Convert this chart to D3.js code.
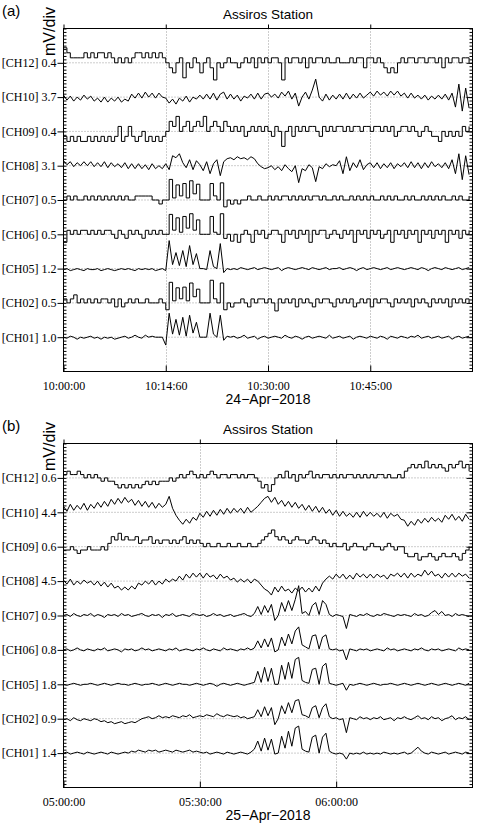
<!DOCTYPE html>
<html>
<head>
<meta charset="utf-8">
<script src="https://cdn.jsdelivr.net/npm/d3@7"></script>
<style>
  body { margin: 0; background: #fff; }
</style>
</head>
<body>
<div id="chart"></div>
<script>
// channel names, top to bottom
const channels = ["CH12", "CH10", "CH09", "CH08", "CH07", "CH06", "CH05", "CH02", "CH01"];

// sensitivity of each trace, mV per division
const mvDivA = [0.4, 3.7, 0.4, 3.1, 0.5, 0.5, 1.2, 0.5, 1.0];
const mvDivB = [0.6, 4.4, 0.6, 4.5, 0.9, 0.8, 1.8, 0.9, 1.4];

// time axis
const startA = new Date(2018, 3, 24, 10, 0, 0), endA = new Date(2018, 3, 24, 11, 0, 0);
const startB = new Date(2018, 3, 25, 5, 0, 0), endB = new Date(2018, 3, 25, 6, 30, 0);
const sampleSecA = 30, sampleSecB = 45;
const tickTimesA = [new Date(2018, 3, 24, 10, 0), new Date(2018, 3, 24, 10, 15), new Date(2018, 3, 24, 10, 30), new Date(2018, 3, 24, 10, 45)];
const tickLabelsA = ["10:00:00", "10:14:60", "10:30:00", "10:45:00"];
const tickTimesB = [new Date(2018, 3, 25, 5, 0), new Date(2018, 3, 25, 5, 30), new Date(2018, 3, 25, 6, 0)];
const tickLabelsB = ["05:00:00", "05:30:00", "06:00:00"];

// signal samples, microvolts relative to each channel's mean level
const a_ch12 = [175,117,58,58,58,58,117,58,117,58, 117,117,58,117,58,0,58,0,58,0, 58,117,117,58,117,58,117,58,117,58,
  0,-58,-117,0,58,-175,0,-58,58,0, -117,0,58,-58,-200,0,-58,0,58,0, 0,-58,0,58,0,58,-58,58,0,58,
  0,58,58,0,-200,58,0,58,58,0, 58,-58,58,0,58,58,0,58,0,0, 58,0,0,0,58,0,58,58,-58,58,
  58,0,58,0,-58,-117,-58,-117,0,58, 0,58,58,0,58,58,0,58,58,0, 58,-58,58,0,58,58,0,58,58,0];
const a_ch10 = [216,-324,108,-432,0,-324,216,-216,108,-432, -108,-540,0,-540,-108,-432,0,-540,-216,-432,
  324,-108,432,-108,540,0,432,-108,432,0, -108,-648,-216,-756,-108,-432,108,-540,0,-216,
  216,-216,324,-216,432,-324,324,540,-216,324, -216,216,-432,108,-108,324,-216,432,-216,324,
  432,0,324,-108,540,108,648,-216,432,-970, 0,540,-216,756,1940,0,-432,324,-324,216,
  -216,324,-216,432,-216,324,-108,432,-108,216, 540,108,648,216,540,108,648,216,648,108,
  432,-108,432,-108,216,-216,216,-324,108,-216, 216,-216,324,-324,432,-1079,1403,-1511,971,-1187];
const a_ch09 = [-58,-117,-58,-117,-58,-117,-117,-58,-117,-58, -117,-58,-117,-58,-117,-58,58,-117,-58,58,
  -58,-117,-58,0,-117,-58,-117,-58,-117,-58, 0,117,58,175,0,58,117,0,58,117,
  58,175,0,58,117,58,0,117,58,0, 58,0,58,-58,0,58,0,58,0,58,
  0,-58,58,0,-175,0,58,-58,58,0, 58,0,58,58,0,-58,58,0,58,0,
  58,58,0,58,0,58,58,0,58,58, 0,58,58,0,58,0,58,-58,0,58,
  58,0,58,0,-58,0,58,0,-58,-58, -117,0,-58,0,-58,0,-58,58,0,58];
const a_ch08 = [450,90,360,-90,270,0,360,0,360,-90, 270,-90,360,-180,270,-90,180,-180,270,-270,
  180,-270,180,-270,90,-360,180,-270,0,-270, 180,-360,900,720,1080,270,-180,540,-360,450,
  90,-450,360,-720,180,540,-900,360,630,720, 540,810,630,720,540,810,630,180,-90,-270,
  -180,0,-360,-90,-450,90,-270,-540,0,-1530, -270,-450,90,-180,-1440,-90,-270,180,-90,90,
  0,450,-720,810,-450,270,-180,540,-360,90, 270,-180,270,-270,180,-180,270,-270,180,-90,
  270,-180,360,-180,270,-270,270,-180,360,-90, 180,-180,270,-270,540,-720,1080,-1260,900,-810];
const a_ch07 = [0,58,0,58,0,0,58,0,58,0, 58,0,58,0,58,0,58,0,58,0, 0,58,58,58,58,58,0,0,-58,0,
  0,300,30,220,60,240,30,280,90,230, 0,0,0,240,60,0,250,-100,0,-60, 0,-58,0,0,58,0,0,58,0,0,
  58,0,58,0,58,58,0,58,0,58, 0,58,0,58,58,0,58,0,0,58, 0,58,0,0,58,0,58,0,58,0,
  58,0,0,58,0,58,0,58,0,0, 58,0,58,0,0,58,0,58,0,58, 0,58,0,0,58,0,58,0,0,58];
const a_ch06 = [-117,58,0,58,0,58,58,0,58,0, 58,0,58,58,0,-58,58,0,-58,58, 0,58,0,-58,58,0,58,0,58,0,
  0,290,60,240,30,260,90,300,60,210, 0,0,0,260,30,0,300,-60,0,-100, 0,-117,0,58,0,-117,58,0,58,-58,
  0,58,58,0,-117,58,0,58,-58,58, 0,58,-117,58,0,58,58,-58,0,58, 0,-58,58,0,58,-117,58,0,58,-58,
  58,0,58,-58,0,58,-117,58,0,58, -58,58,0,58,-117,58,0,58,-58,58, 0,58,-117,58,0,58,-58,58,0,58];
const a_ch05 = [-35,0,-70,-35,0,-35,-70,0,-35,-35, 0,-70,-35,0,-35,-70,-35,0,-35,0, -35,-70,0,-35,0,-35,0,-70,-35,0,
  -70,980,140,560,105,630,70,805,140,525, 0,0,-35,630,70,0,875,-140,0,-35, 0,-35,35,0,-35,0,35,-35,0,35,
  0,-35,0,35,-70,0,35,0,-35,0, 35,0,-35,35,0,-35,0,35,-35,0, 0,35,-35,0,35,0,-70,0,35,-35,
  0,35,0,-35,0,35,-35,0,35,0, -35,0,35,0,-35,35,0,-70,0,35, 0,-35,35,0,-35,0,35,-35,0,35];
const a_ch02 = [58,0,58,117,0,58,0,58,0,58, 0,58,58,0,58,-58,58,-58,0,58, 0,58,0,0,58,0,0,0,58,0,
  -100,300,30,220,60,230,30,290,90,200, 0,0,0,330,60,0,290,-100,0,-60, 0,0,58,0,-58,58,0,58,58,0,
  58,0,-117,58,0,58,0,58,-58,58, 0,58,0,-58,58,0,58,58,0,-58, 58,0,58,0,58,-58,0,58,0,58,
  -58,58,0,58,58,0,-58,58,0,58, 0,58,-58,58,0,58,0,-58,58,0, 58,0,58,-58,58,0,58,0,58,0];
const a_ch01 = [0,-29,29,0,-58,0,-29,0,29,-29, 0,-58,0,-29,0,-58,-29,0,29,-29, 0,58,0,-29,58,0,29,0,0,0,
  -230,700,90,520,60,580,30,640,120,435, 0,0,0,700,90,0,640,-90,29,0, 29,-29,0,58,-29,0,29,-58,0,29,
  -29,0,29,0,-29,58,0,-29,29,0, -58,0,29,-29,0,29,0,-29,58,-29, 0,29,-29,0,29,-58,0,29,0,-29,
  29,0,-29,29,0,-58,29,0,-29,29, 0,-29,29,0,58,-29,0,29,-29,0, 29,-29,0,29,-58,0,29,-29,0,29];

const b_ch12 = [58,117,58,58,117,58,0,58,0,58, 0,-58,0,-58,-58,-117,-175,-117,-175,-117,
  -175,-117,-175,-117,-58,-117,-58,-117,-58,-58, -58,0,-58,0,58,0,58,117,58,0,
  58,0,58,117,58,0,58,58,0,58, 58,0,58,0,58,58,0,-58,-175,-117,
  -234,-117,0,58,0,117,0,58,-58,58, 0,58,117,0,58,0,58,58,0,58,
  0,58,0,58,58,0,58,0,58,0, 58,0,58,58,0,58,0,0,58,0,
  117,175,234,175,234,175,292,175,234,175, 234,175,117,234,175,234,292,175,234,117];
const b_ch10 = [765,128,1020,255,890,380,1150,255,1020,510, 1275,640,1400,765,1660,1020,1785,1150,1910,1275,
  1660,890,1530,765,1400,640,1275,510,1150,640, 1020,2040,510,-380,-1020,-1530,-890,-1400,-640,-1020,
  -128,-640,128,-510,255,-380,380,-255,510,-128, 510,0,510,-128,640,0,380,765,1275,1785,
  2040,1275,1910,1020,1530,765,1400,640,1275,510, 1020,255,890,128,765,0,640,-128,380,-380,
  255,-510,128,-510,-128,-640,0,-640,128,-510, 0,-510,-128,-640,0,-765,-128,-510,-255,-890,
  -1020,-1785,-1150,-1660,-890,-1400,-765,-1275,-640,-1150, -765,-1275,-380,-890,-255,-1020,-510,-1150,-255,-890];
const b_ch09 = [-58,-58,0,-58,-117,-58,-58,0,-58,-58, -58,0,-58,58,175,117,234,117,175,117,
  117,175,58,117,117,175,58,117,58,117, 117,58,117,58,117,175,58,117,58,117,
  58,0,58,0,0,58,0,0,58,0, 0,58,0,0,58,0,0,58,117,175,
  234,292,175,117,175,117,58,117,175,117, 117,58,117,175,117,58,117,58,0,58,
  0,0,58,-58,0,58,0,0,-58,0, 58,0,0,-58,0,58,0,-58,0,0,
  -117,-175,-175,-117,-234,-175,-175,-117,-175,-234, -175,-117,-175,-175,-117,-175,-234,-117,-58,0];
const b_ch08 = [130,-391,261,-522,0,-391,130,-261,0,-522, 0,-652,-130,-782,-261,-913,-652,-1174,-782,-1174,
  -652,-1043,-261,-522,0,-391,130,-522,0,-391, 261,-130,261,0,652,130,913,391,1043,522,
  1043,391,1043,522,782,261,913,391,652,130, 391,-130,261,-130,261,-261,261,0,-522,-1043,
  -1304,-1826,-782,-1434,-652,-1304,-1043,-1565,-913,-1304, -782,-1434,-913,-1434,-652,-1304,-261,261,652,261,
  913,391,913,261,782,261,1043,522,913,391, 913,391,913,522,782,261,913,652,1043,522,
  1043,391,1043,522,913,652,1434,782,1304,652, 913,391,1043,522,1043,522,1043,652,913,391];
const b_ch07 = [0,26,-26,52,0,-26,26,0,52,-26, 26,0,-52,26,0,26,-26,52,0,26, -26,0,26,52,0,-26,26,0,26,-52,
  26,0,52,-26,0,26,0,-26,52,26, 0,26,-26,0,52,0,26,-26,0,26, -26,0,26,52,0,-26,52,235,26,260,
  78,290,-130,0,340,104,390,130,420,780, 52,104,0,260,340,26,390,290,26,-26, 26,0,-26,-340,26,0,-26,26,0,52,
  0,-26,26,0,52,26,0,-26,26,0, 26,0,-26,52,0,26,-26,0,78,130, 26,104,0,26,-26,52,0,26,0,-26];
const b_ch06 = [0,23,-23,0,46,0,-23,23,0,-23, 23,0,46,-23,0,23,0,-46,23,0, 23,-23,0,46,0,23,-23,0,23,0,
  -23,23,0,46,-23,0,23,0,-23,23, 0,46,0,-23,23,0,-23,46,0,23, 0,-23,23,0,46,0,46,210,46,255,
  70,278,-46,0,300,93,370,140,440,535, 116,70,23,325,350,23,300,350,23,0, 23,-23,0,-232,23,0,-23,23,0,23,
  -23,0,23,0,-23,46,0,23,-23,0, 23,0,-23,23,0,46,0,-23,23,0, 23,-23,0,23,0,-23,46,0,23,0];
const b_ch05 = [0,-52,0,52,0,-52,0,0,52,0, -52,0,52,0,-52,0,52,0,0,-52, 0,52,0,-52,0,0,52,0,-52,0,
  52,0,-52,0,52,0,0,-52,0,52, 0,-52,0,52,0,-104,0,52,0,-52, 0,52,0,-52,0,52,100,680,100,890,
  150,840,0,0,1000,260,1150,310,1300,1410, 200,100,52,780,840,0,940,1100,52,0, -52,0,52,-310,0,-52,0,52,0,-52,
  0,52,0,-52,0,0,52,0,-52,0, 52,0,-52,0,52,0,-52,0,52,0, -52,0,52,0,-52,0,52,0,-52,52];
const b_ch02 = [-26,0,-52,26,-26,-52,0,-26,-52,0, -26,-78,-52,-104,-78,-130,-104,-78,-130,-104, -78,-104,-52,0,26,52,0,26,78,26,
  52,26,78,52,26,78,52,104,26,52, 78,52,104,78,52,130,78,52,104,78, 52,78,26,52,0,26,52,235,52,313,
  78,290,-156,0,340,130,420,156,470,500, 104,78,26,290,340,26,290,390,52,0, 26,-26,0,-365,26,0,-26,52,0,26,
  -26,26,0,52,-26,0,26,-52,26,0, 52,0,-26,26,78,0,26,-26,52,0, 26,-52,0,26,78,-26,26,0,52,-26];
const b_ch01 = [0,40,-40,0,40,0,-40,40,0,-40, 0,40,0,-40,40,0,-40,0,40,0, 80,40,120,80,40,120,80,120,40,80,
  120,80,40,120,80,40,80,120,40,80, 40,0,40,-40,0,40,0,-40,40,0, -40,0,40,0,-40,40,160,490,80,610,
  120,570,-40,0,690,200,890,280,1020,1100, 160,80,40,650,730,0,650,810,80,0, -40,0,-40,-245,0,-40,0,-40,40,-40,
  0,-40,0,-40,40,0,-40,0,-40,0, 40,-40,0,120,240,80,0,-40,40,0, -40,0,40,-40,0,40,0,-40,40,0];

const seriesA = [a_ch12, a_ch10, a_ch09, a_ch08, a_ch07, a_ch06, a_ch05, a_ch02, a_ch01];
const seriesB = [b_ch12, b_ch10, b_ch09, b_ch08, b_ch07, b_ch06, b_ch05, b_ch02, b_ch01];

// ---------------------------------------------------------------
const W = 480, H = 825;
const sans = "'Liberation Sans', Arial, Helvetica, sans-serif";
const serif = "'Liberation Serif', 'Times New Roman', serif";
const left = 63.5, right = 472.5;

const svg = d3.select("#chart").append("svg")
    .attr("width", W)
    .attr("height", H);

function drawPanel(p) {
    const g = svg.append("g");
    const x = d3.scaleTime().domain([p.start, p.end]).range([left, right]);
    const y = d3.scaleLinear().domain([0, 10]).range([p.top, p.bottom]);
    const mid = (left + right) / 2;

    g.append("clipPath").attr("id", "clip" + p.id)
      .append("rect")
        .attr("x", left).attr("y", p.top)
        .attr("width", right - left).attr("height", p.bottom - p.top);

    // dotted grid
    g.append("g").selectAll("line")
        .data(d3.range(1, 10))
      .enter().append("line")
        .attr("x1", left).attr("x2", right)
        .attr("y1", d => y(d)).attr("y2", d => y(d))
        .style("stroke", "#9a9a9a").style("stroke-dasharray", "1,2");
    g.append("g").selectAll("line")
        .data(p.ticks.slice(1))
      .enter().append("line")
        .attr("x1", d => Math.round(x(d)) + 0.5).attr("x2", d => Math.round(x(d)) + 0.5)
        .attr("y1", p.top).attr("y2", p.bottom)
        .style("stroke", "#9a9a9a").style("stroke-dasharray", "1,2");

    // traces
    const traces = g.append("g").attr("clip-path", "url(#clip" + p.id + ")");
    p.series.forEach((vals, k) => {
        const s = p.mvDiv[k];
        const line = d3.line()
            .x((d, i) => x(new Date(p.start.getTime() + i * p.sampleSec * 1000)))
            .y(d => y(k + 1 - d / 1000 / s))
            .curve(p.stepped.has(channels[k]) ? d3.curveStepAfter : d3.curveLinear);
        traces.append("path")
            .datum(vals)
            .attr("d", line)
            .style("fill", "none")
            .style("stroke", "#000")
            .style("stroke-width", 1);
    });

    // left axis: channel labels + minor ticks
    g.append("g")
        .attr("transform", "translate(" + left + ",0)")
        .call(d3.axisLeft(y).tickValues(d3.range(1, 10)).tickSize(6).tickPadding(1)
            .tickFormat(d => "[" + channels[d - 1] + "] " + p.mvDiv[d - 1].toFixed(1)))
        .call(a => a.select(".domain").remove())
        .call(a => a.selectAll("text").attr("font-family", serif).attr("font-size", 12).attr("fill", "#000"));
    g.append("g")
        .attr("transform", "translate(" + left + ",0)")
        .call(d3.axisRight(y).tickValues(d3.range(0, 100).map(d => d / 10)).tickSize(3).tickFormat(""))
        .call(a => a.select(".domain").remove());
    g.append("g")
        .attr("transform", "translate(" + right + ",0)")
        .call(d3.axisLeft(y).tickValues(d3.range(0, 100).map(d => d / 10)).tickSize(3).tickFormat(""))
        .call(a => a.select(".domain").remove());
    g.append("g")
        .attr("transform", "translate(" + right + ",0)")
        .call(d3.axisLeft(y).tickValues(d3.range(1, 10)).tickSize(6).tickFormat(""))
        .call(a => a.select(".domain").remove());

    // time axes
    g.append("g")
        .attr("transform", "translate(0," + p.top + ")")
        .call(d3.axisTop(x).tickValues(p.ticks).tickSize(4).tickFormat(""))
        .call(a => a.select(".domain").remove());
    g.append("g")
        .attr("transform", "translate(0," + p.bottom + ")")
        .call(d3.axisBottom(x).tickValues(p.ticks).tickSizeInner(-6).tickSizeOuter(0).tickPadding(9.5)
            .tickFormat((d, i) => p.tickLabels[i]))
        .call(a => a.select(".domain").remove())
        .call(a => a.selectAll("text").attr("font-family", serif).attr("font-size", 12).attr("fill", "#000"));

    // frame
    g.append("rect")
        .attr("x", left).attr("y", p.top)
        .attr("width", right - left).attr("height", p.bottom - p.top)
        .style("fill", "none").style("stroke", "#000");

    // texts
    g.append("text").attr("x", 2).attr("y", p.top - 13)
        .attr("font-family", sans).attr("font-size", 15)
        .text(p.tag);
    g.append("text")
        .attr("transform", "translate(55," + (p.top + 3) + ") rotate(-90)")
        .attr("text-anchor", "middle")
        .attr("font-family", sans).attr("font-size", 16)
        .text("mV/div");
    g.append("text").attr("x", mid).attr("y", p.top - 10)
        .attr("text-anchor", "middle")
        .attr("font-family", sans).attr("font-size", 13.5)
        .text("Assiros Station");
    g.append("text").attr("x", mid).attr("y", p.bottom + 32.5)
        .attr("text-anchor", "middle")
        .attr("font-family", sans).attr("font-size", 14)
        .text(p.date);
}

drawPanel({
    id: "a", tag: "(a)", top: 28.5, bottom: 371.5,
    start: startA, end: endA, sampleSec: sampleSecA,
    ticks: tickTimesA, tickLabels: tickLabelsA,
    mvDiv: mvDivA, series: seriesA,
    stepped: new Set(["CH12", "CH09", "CH07", "CH06", "CH02"]),
    date: "24\u2212Apr\u22122018"
});
drawPanel({
    id: "b", tag: "(b)", top: 443.5, bottom: 787.5,
    start: startB, end: endB, sampleSec: sampleSecB,
    ticks: tickTimesB, tickLabels: tickLabelsB,
    mvDiv: mvDivB, series: seriesB,
    stepped: new Set(["CH12", "CH09"]),
    date: "25\u2212Apr\u22122018"
});
</script>
</body>
</html>
